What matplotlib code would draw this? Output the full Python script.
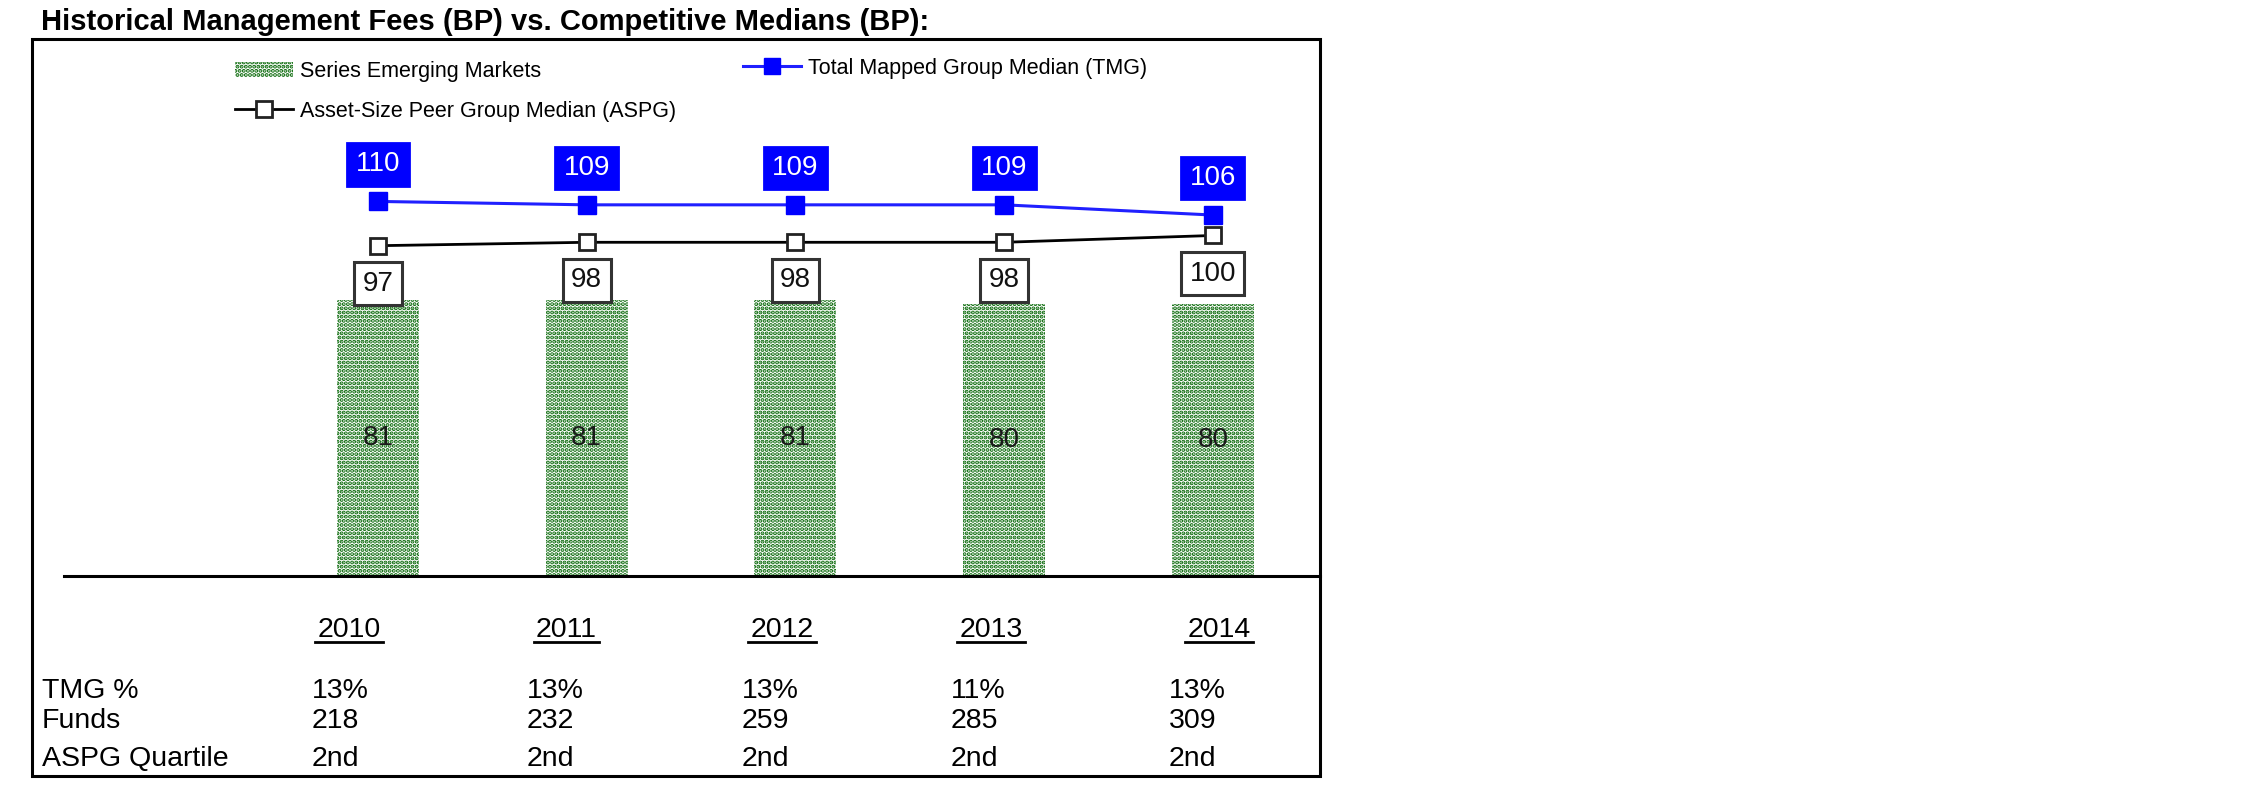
import matplotlib
matplotlib.use("Agg")
from matplotlib import pyplot as plt
from matplotlib.patches import Rectangle, Patch
from matplotlib.lines import Line2D
import numpy as np

plt.rcParams['font.family'] = ['Liberation Sans', 'DejaVu Sans']
plt.rcParams['hatch.linewidth'] = 2.0

# data
years = ['2010', '2011', '2012', '2013', '2014']
sem = [81, 81, 81, 80, 80]          # Series Emerging Markets
tmg = [110, 109, 109, 109, 106]     # Total Mapped Group Median
aspg = [97, 98, 98, 98, 100]        # Asset-Size Peer Group Median
row_names = ['TMG %', 'Funds', 'ASPG Quartile']
tmg_pct = ['13%', '13%', '13%', '11%', '13%']
funds = ['218', '232', '259', '285', '309']
quartile = ['2nd', '2nd', '2nd', '2nd', '2nd']

title = "Historical Management Fees (BP) vs. Competitive Medians (BP):"

blue = "#0000ff"
green = "#006400"

W, H = 2251, 798
fig = plt.figure(figsize=(W/100, H/100), dpi=100)
fig.patch.set_facecolor('white')

def fx(px):
    return px/W

def fy(py):
    return 1 - py/H

''' Chart area '''
ax = fig.add_axes([fx(64), fy(576), (1320-64)/W, (576-39)/H])
x = np.arange(len(years))
ax.bar(x, sem, width=0.393, color='white', edgecolor=green, hatch='....',
       linewidth=0, zorder=1)
for i, v in enumerate(sem):
    ax.text(i, v/2, str(v), ha='center', va='center', fontsize=20,
            color='#1a1a1a', zorder=2)

ax.plot(x, aspg, color='black', linewidth=2, marker='s', markersize=12,
        markerfacecolor='white', markeredgecolor='#222222',
        markeredgewidth=2, zorder=3)
ax.plot(x, tmg, color='#2020ff', linewidth=2.2, marker='s', markersize=13,
        markerfacecolor=blue, markeredgecolor=blue, zorder=4)

for i, v in enumerate(tmg):
    ax.annotate(str(v), (i, v), xytext=(0, 26.6), textcoords='offset points',
                ha='center', va='center', fontsize=20, color='white', zorder=5,
                bbox=dict(boxstyle='square,pad=0.3', fc=blue, ec=blue, lw=2))
for i, v in enumerate(aspg):
    ax.annotate(str(v), (i, v), xytext=(0, -27.4), textcoords='offset points',
                ha='center', va='center', fontsize=20, color='#111111', zorder=5,
                bbox=dict(boxstyle='square,pad=0.3', fc='white', ec='#333333',
                          lw=2.2))

ax.set_xlim(-1.504, 4.513)
ax.set_ylim(0, 157.7)
ax.set_xticks([])
ax.set_yticks([])
for s in ['top', 'left', 'right']:
    ax.spines[s].set_visible(False)
ax.spines['bottom'].set_linewidth(2.2)
ax.spines['bottom'].set_color('black')
ax.patch.set_alpha(0)

''' Legends '''
h_sem = Patch(facecolor='white', edgecolor=green, hatch='....', linewidth=0)
h_aspg = Line2D([], [], color='black', linewidth=2, marker='s', markersize=11,
                markerfacecolor='white', markeredgecolor='#222222',
                markeredgewidth=2)
h_tmg = Line2D([], [], color='#2020ff', linewidth=2.2, marker='s',
               markersize=11, markerfacecolor=blue, markeredgecolor=blue)
leg_kw = dict(frameon=False, fontsize=15.5, borderpad=0, borderaxespad=0,
              handlelength=2.7, handletextpad=0.33, labelspacing=0.88,
              loc='upper left', bbox_transform=fig.transFigure)
leg1 = ax.legend([h_sem, h_aspg],
                 ['Series Emerging Markets', 'Asset-Size Peer Group Median (ASPG)'],
                 bbox_to_anchor=(fx(235), fy(61)), **leg_kw)
ax.add_artist(leg1)
ax.legend([h_tmg], ['Total Mapped Group Median (TMG)'],
          bbox_to_anchor=(fx(743), fy(58)), **leg_kw)

''' Frame and title '''
fig.add_artist(Rectangle((fx(32), fy(776)), (1320-32)/W, (776-39)/H,
                         transform=fig.transFigure, fill=False,
                         edgecolor='black', linewidth=2.2))
fig.text(fx(41), fy(30), title, fontsize=21, fontweight='bold',
         va='baseline')

''' Table below the chart '''
year_x = [349, 566, 782, 991, 1219]
col_x = [312, 527, 742, 951, 1169]
row_y = [698, 728, 766]

year_texts = []
for xp, yr in zip(year_x, years):
    year_texts.append(fig.text(fx(xp), fy(637), yr, fontsize=20.5,
                               ha='center', va='baseline'))

for ry, name, vals in zip(row_y, row_names, [tmg_pct, funds, quartile]):
    fig.text(fx(42), fy(ry), name, fontsize=20.5, va='baseline')
    for xp, v in zip(col_x, vals):
        fig.text(fx(xp), fy(ry), v, fontsize=20.5, va='baseline')

# underline the years
fig.canvas.draw()
renderer = fig.canvas.get_renderer()
for t in year_texts:
    bb = t.get_window_extent(renderer)
    fig.add_artist(Line2D([fx(bb.x0 - 2), fx(bb.x1 + 2)], [fy(642), fy(642)],
                          transform=fig.transFigure, color='black',
                          linewidth=2))

fig.savefig('out.png', dpi=100, facecolor='white')
